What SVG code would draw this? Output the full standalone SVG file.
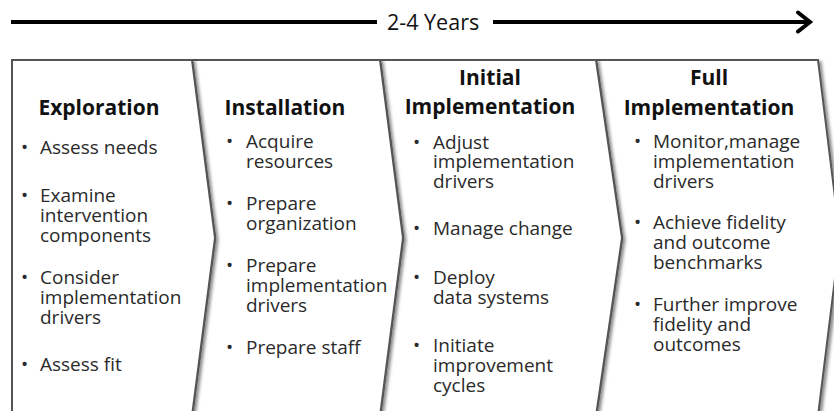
<svg xmlns="http://www.w3.org/2000/svg" width="834" height="411" viewBox="0 0 834 411">
  <defs>
    <filter id="soft-shadow" x="-10%" y="-10%" width="130%" height="130%">
      <feDropShadow dx="2.5" dy="2" stdDeviation="1.6" flood-color="#000" flood-opacity="0.45"/>
    </filter>
    <marker id="open-head" markerWidth="20" markerHeight="24" refX="15" refY="12" orient="auto" markerUnits="userSpaceOnUse">
      <polyline points="3,2.5 15,12 3,21.5" fill="none" stroke="#000" stroke-width="4" stroke-linecap="round" stroke-linejoin="miter"/>
    </marker>
  </defs>
  <style>
    .stage { fill: #fff; stroke: #555; stroke-width: 2; stroke-linejoin: miter; filter: url(#soft-shadow); }
    .title { font-family: "Open Sans", "Liberation Sans", sans-serif; font-weight: bold; font-size: 21px; fill: #111; text-anchor: middle; }
    .item { font-family: "Open Sans", "Liberation Sans", sans-serif; font-size: 19px; fill: #2a2a2a; }
    .bullet { font-family: "Open Sans", "Liberation Sans", sans-serif; font-size: 19px; fill: #2a2a2a; }
    .span-label { font-family: "Open Sans", "Liberation Sans", sans-serif; font-size: 21.5px; fill: #111; }
    .rule { stroke: #000; stroke-width: 4; fill: none; }
  </style>

  <rect width="834" height="411" fill="#fff"/>

  <!-- timeline across the top -->
  <g id="connectors">
    <line class="rule" x1="11" y1="22" x2="377" y2="22"/>
    <line class="rule" x1="493" y1="22" x2="810" y2="22" marker-end="url(#open-head)"/>
    <text class="span-label" x="387" y="30">2-4 Years</text>
  </g>

  <!-- stages, drawn right to left so each divider's shadow falls on the next stage -->
  <g id="full-implementation">
    <polygon class="stage" points="596,60 818,60 840,238 818,416 596,416 622,238"/>
    <text class="title" x="709" y="85">Full</text>
    <text class="title" x="709" y="115">Implementation</text>
    <text class="bullet" x="634" y="148">•</text>
    <text class="item" x="653" y="148">Monitor,manage</text>
    <text class="item" x="653" y="168">implementation</text>
    <text class="item" x="653" y="188">drivers</text>
    <text class="bullet" x="634" y="229">•</text>
    <text class="item" x="653" y="229">Achieve fidelity</text>
    <text class="item" x="653" y="249">and outcome</text>
    <text class="item" x="653" y="269">benchmarks</text>
    <text class="bullet" x="634" y="311">•</text>
    <text class="item" x="653" y="311">Further improve</text>
    <text class="item" x="653" y="331">fidelity and</text>
    <text class="item" x="653" y="351">outcomes</text>
  </g>

  <g id="initial-implementation">
    <polygon class="stage" points="380,60 596,60 622,238 596,416 380,416 403,238"/>
    <text class="title" x="490" y="85">Initial</text>
    <text class="title" x="490" y="114">Implementation</text>
    <text class="bullet" x="413" y="149">•</text>
    <text class="item" x="433" y="149">Adjust</text>
    <text class="item" x="433" y="168">implementation</text>
    <text class="item" x="433" y="188">drivers</text>
    <text class="bullet" x="413" y="235">•</text>
    <text class="item" x="433" y="235">Manage change</text>
    <text class="bullet" x="413" y="284">•</text>
    <text class="item" x="433" y="284">Deploy</text>
    <text class="item" x="433" y="304">data systems</text>
    <text class="bullet" x="413" y="352">•</text>
    <text class="item" x="433" y="352">Initiate</text>
    <text class="item" x="433" y="372">improvement</text>
    <text class="item" x="433" y="392">cycles</text>
  </g>

  <g id="installation">
    <polygon class="stage" points="192,60 380,60 403,238 380,416 192,416 215,238"/>
    <text class="title" x="285" y="115">Installation</text>
    <text class="bullet" x="226" y="148">•</text>
    <text class="item" x="246" y="148">Acquire</text>
    <text class="item" x="246" y="168">resources</text>
    <text class="bullet" x="226" y="210">•</text>
    <text class="item" x="246" y="210">Prepare</text>
    <text class="item" x="246" y="230">organization</text>
    <text class="bullet" x="226" y="272">•</text>
    <text class="item" x="246" y="272">Prepare</text>
    <text class="item" x="246" y="292">implementation</text>
    <text class="item" x="246" y="312">drivers</text>
    <text class="bullet" x="226" y="354">•</text>
    <text class="item" x="246" y="354">Prepare staff</text>
  </g>

  <g id="exploration">
    <polygon class="stage" points="12,60 192,60 215,238 192,416 12,416"/>
    <text class="title" x="99" y="115">Exploration</text>
    <text class="bullet" x="21" y="154">•</text>
    <text class="item" x="40" y="154">Assess needs</text>
    <text class="bullet" x="21" y="202">•</text>
    <text class="item" x="40" y="202">Examine</text>
    <text class="item" x="40" y="222">intervention</text>
    <text class="item" x="40" y="242">components</text>
    <text class="bullet" x="21" y="284">•</text>
    <text class="item" x="40" y="284">Consider</text>
    <text class="item" x="40" y="304">implementation</text>
    <text class="item" x="40" y="324">drivers</text>
    <text class="bullet" x="21" y="371">•</text>
    <text class="item" x="40" y="371">Assess fit</text>
  </g>
</svg>
